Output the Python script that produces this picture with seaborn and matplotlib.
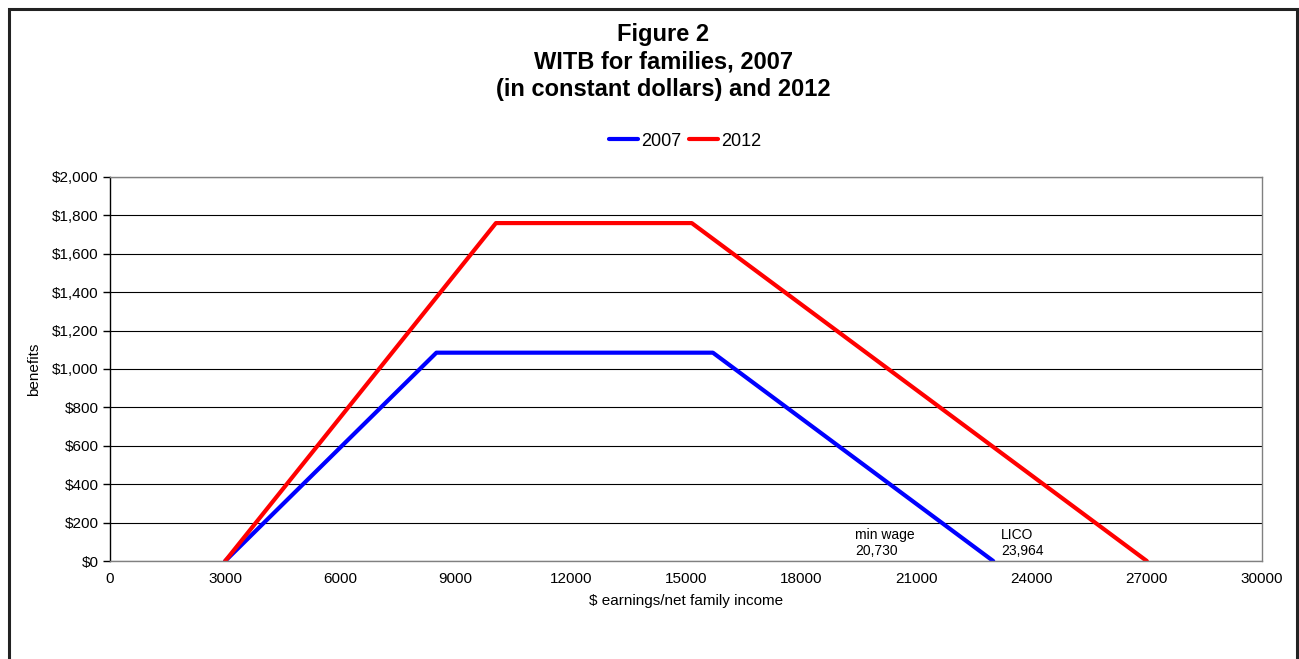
import matplotlib
matplotlib.use("Agg")
import matplotlib.pyplot as plt
import seaborn as sns
import pandas as pd
from matplotlib.patches import Rectangle
from matplotlib.ticker import FuncFormatter

# Data
income_2007 = [3000, 8500, 15700, 23000]
benefit_2007 = [0, 1085, 1085, 0]
income_2012 = [3000, 10050, 15150, 27000]
benefit_2012 = [0, 1760, 1760, 0]
series_names = ["2007", "2012"]
x_ticks = list(range(0, 30001, 3000))
y_ticks = list(range(0, 2001, 200))
annotations = [("min wage\n20,730", 19400), ("LICO\n23,964", 23200)]

df = pd.concat([
    pd.DataFrame({"income": income_2007, "benefit": benefit_2007, "year": series_names[0]}),
    pd.DataFrame({"income": income_2012, "benefit": benefit_2012, "year": series_names[1]}),
])

sns.set_theme(style="white")
plt.rcParams["font.family"] = ["Liberation Sans", "DejaVu Sans"]
plt.rcParams["text.color"] = "black"
plt.rcParams["axes.labelcolor"] = "black"
plt.rcParams["xtick.color"] = "black"
plt.rcParams["ytick.color"] = "black"

fig = plt.figure(figsize=(12.99, 6.59), dpi=100)
ax = fig.add_axes([110/1299, 1-561/659, (1262-110)/1299, (561-177)/659])

sns.lineplot(data=df, x="income", y="benefit", hue="year", palette={"2007": "#0000ff", "2012": "#ff0000"},
             linewidth=3, ax=ax, sort=False, estimator=None, legend=True)

ax.set_xlim(0, 30000)
ax.set_ylim(0, 2000)
ax.set_xticks(x_ticks)
ax.set_yticks(y_ticks)
ax.yaxis.set_major_formatter(FuncFormatter(lambda v, p: f"${int(v):,}"))
ax.tick_params(axis="y", which="major", length=5, width=1, color="black", direction="out", left=True, labelsize=11, pad=3)
ax.tick_params(axis="x", length=0, labelsize=11, pad=8)

ax.grid(axis="y", color="black", linewidth=0.8)
ax.set_axisbelow(True)
for side in ["top", "right", "bottom"]:
    ax.spines[side].set_color("#808080")
    ax.spines[side].set_linewidth(1)
ax.spines["left"].set_color("black")
ax.spines["left"].set_linewidth(1)

ax.set_xlabel("$ earnings/net family income", fontsize=11, color="black", labelpad=6)
ax.set_ylabel("benefits", fontsize=11, color="black", labelpad=8)

for text, xv in annotations:
    ax.text(xv, 15, text, fontsize=10, color="black", va="bottom", ha="left", linespacing=1.2)

handles, labels = ax.get_legend_handles_labels()
leg = ax.legend(handles, labels, loc="center", bbox_to_anchor=(685/1299, 1-141/659), bbox_transform=fig.transFigure,
                ncol=2, frameon=False, fontsize=13, handlelength=1.6, handletextpad=0.2, columnspacing=0.4)
for t in leg.get_texts():
    t.set_color("black")

fig.text(663/1299, 1-62/659, "Figure 2\nWITB for families, 2007\n(in constant dollars) and 2012",
         ha="center", va="center", fontsize=17, fontweight="bold", linespacing=1.24, color="black")

fig.patches.append(Rectangle((9/1299, -0.02), (1297-9)/1299, 1-9/659+0.02, transform=fig.transFigure,
                             fill=False, edgecolor="#222222", linewidth=2.2))

fig.savefig("out.png", dpi=100)
